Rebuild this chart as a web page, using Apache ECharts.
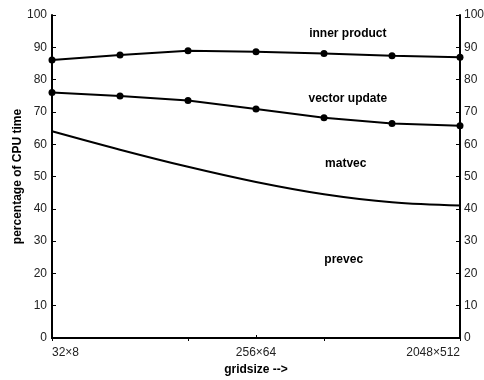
<!DOCTYPE html>
<html>
<head>
<meta charset="utf-8">
<script src="https://cdn.jsdelivr.net/npm/echarts@6/dist/echarts.min.js"></script>
<style>
  html, body { margin: 0; padding: 0; background: #fff; }
  #chart { width: 484px; height: 380px; }
</style>
</head>
<body>
<div id="chart"></div>
<script>
// Grid sizes, each one doubling both dimensions
const gridSizes = ['32×8', '64×16', '128×32', '256×64', '512×128', '1024×256', '2048×512'];

// Cumulative share of CPU time (%) at the upper edge of each band
const innerProductTop = [86.1, 87.6, 88.9, 88.6, 88.1, 87.4, 86.9];
const vectorUpdateTop = [76.0, 74.9, 73.5, 70.9, 68.2, 66.4, 65.7];
const matvecTop = [64.0, 58.3, 53.0, 48.3, 44.5, 42.0, 41.0];

// Band names, written inside each band
const bandNames = ['inner product', 'vector update', 'matvec', 'prevec'];

const yTicks = { min: 0, max: 100, interval: 10 };

const chart = echarts.init(document.getElementById('chart'));

const boldFont = 'Liberation Sans, Arial, sans-serif';
const axisLine = { show: true, lineStyle: { color: '#000', width: 2 } };

const lineSeries = (name, data, markers, smooth) => ({
  name: name,
  type: 'line',
  data: data,
  smooth: smooth,
  symbol: markers ? 'circle' : 'none',
  symbolSize: 7,
  itemStyle: { color: '#000' },
  lineStyle: { color: '#000', width: 2 },
  z: 3
});

chart.setOption({
  animation: false,
  backgroundColor: '#fff',
  grid: { left: 52, right: 24, top: 15, bottom: 42, containLabel: false, outerBoundsMode: 'none' },
  xAxis: [
    {
      type: 'category',
      data: gridSizes,
      boundaryGap: false,
      position: 'bottom',
      axisLine: axisLine,
      axisTick: { show: true, inside: true, length: 3, lineStyle: { color: '#000' } },
      axisLabel: {
        interval: 2,
        color: '#222',
        fontFamily: 'Liberation Sans, Arial, sans-serif',
        fontSize: 12,
        margin: 9,
        alignMinLabel: 'left',
        alignMaxLabel: 'right'
      },
      splitLine: { show: false },
      name: 'gridsize -->',
      nameLocation: 'middle',
      nameGap: 25,
      nameTextStyle: { fontFamily: boldFont, fontWeight: 'bold', fontSize: 12, color: '#000' }
    },
    {
      type: 'category',
      data: gridSizes,
      boundaryGap: false,
      position: 'top',
      axisLine: axisLine,
      axisTick: { show: true, inside: true, length: 3, lineStyle: { color: '#000' } },
      axisLabel: { show: false },
      splitLine: { show: false }
    }
  ],
  yAxis: [
    {
      type: 'value',
      min: yTicks.min,
      max: yTicks.max,
      interval: yTicks.interval,
      position: 'left',
      axisLine: axisLine,
      axisTick: { show: true, inside: true, length: 4, lineStyle: { color: '#000' } },
      axisLabel: { color: '#222', fontFamily: 'Liberation Sans, Arial, sans-serif', fontSize: 12, margin: 5 },
      splitLine: { show: false },
      name: 'percentage of CPU time',
      nameLocation: 'middle',
      nameGap: 28,
      nameMoveOverlap: false,
      nameTextStyle: { fontFamily: boldFont, fontWeight: 'bold', fontSize: 12, color: '#000' }
    },
    {
      type: 'value',
      min: yTicks.min,
      max: yTicks.max,
      interval: yTicks.interval,
      position: 'right',
      axisLine: axisLine,
      axisTick: { show: true, inside: true, length: 4, lineStyle: { color: '#000' } },
      axisLabel: { color: '#222', fontFamily: 'Liberation Sans, Arial, sans-serif', fontSize: 12, margin: 4 },
      splitLine: { show: false }
    }
  ],
  series: [
    lineSeries(bandNames[0], innerProductTop, true, false),
    lineSeries(bandNames[1], vectorUpdateTop, true, false),
    lineSeries(bandNames[2], matvecTop, false, 0.35)
  ]
});

// Band names, placed at a fractional category position and a percentage
const bandLabelSpots = [[4.35, 94.3], [4.35, 74.2], [4.32, 54], [4.29, 24.2]];
const toPixel = (catPos, value) => {
  const i = Math.floor(catPos);
  const a = chart.convertToPixel({ xAxisIndex: 0, yAxisIndex: 0 }, [i, value]);
  const b = chart.convertToPixel({ xAxisIndex: 0, yAxisIndex: 0 }, [i + 1, value]);
  const t = catPos - i;
  return [a[0] + (b[0] - a[0]) * t, a[1]];
};
chart.setOption({
  graphic: bandNames.map((name, i) => {
    const p = toPixel(bandLabelSpots[i][0], bandLabelSpots[i][1]);
    return {
      type: 'text',
      x: p[0],
      y: p[1],
      style: {
        text: name,
        font: 'bold 12px ' + boldFont,
        fill: '#000',
        textAlign: 'center',
        textVerticalAlign: 'middle'
      },
      z: 10
    };
  })
});
</script>
</body>
</html>
